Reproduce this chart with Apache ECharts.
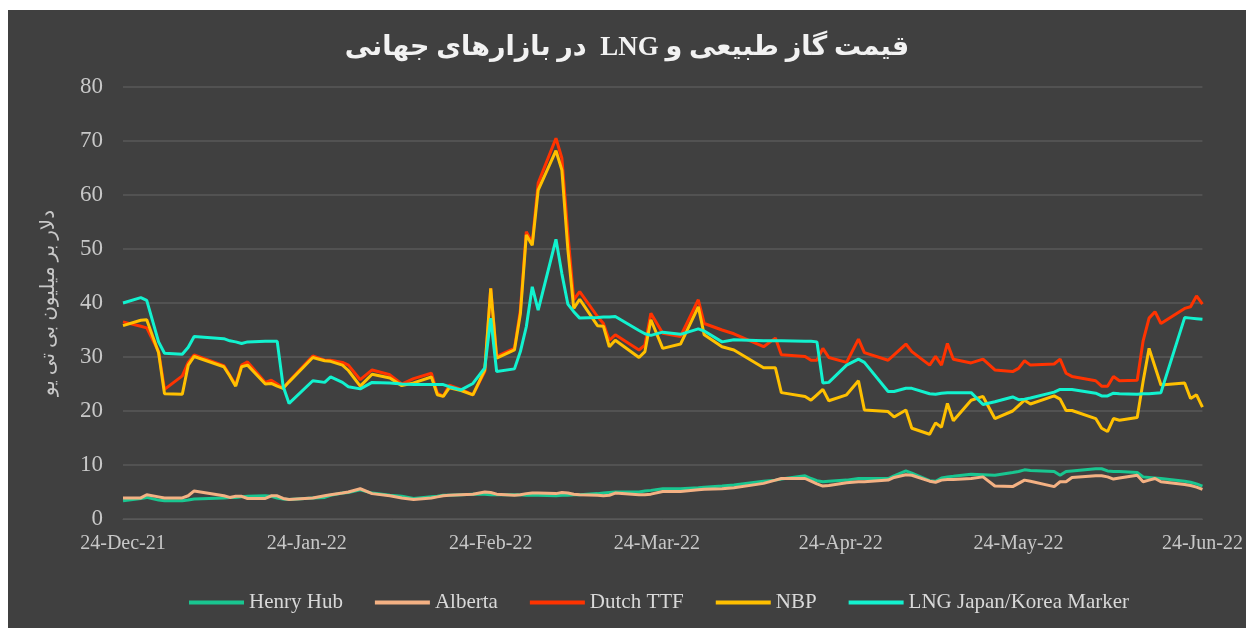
<!DOCTYPE html>
<html>
<head>
<meta charset="utf-8">
<script src="https://cdn.jsdelivr.net/npm/echarts@6/dist/echarts.min.js"></script>
<style>
	html, body { margin: 0; padding: 0; background: #ffffff; }
	#chart { position: absolute; left: 8px; top: 10px; width: 1238px; height: 618px; background: #404040; }
</style>
</head>
<body>
<div id="chart"></div>
<script>
// price, dollars per million BTU
const dates = [
	'2021-12-24', '2021-12-27', '2021-12-28', '2021-12-30', '2021-12-31',
	'2022-01-03', '2022-01-04', '2022-01-05',
	'2022-01-10', '2022-01-11', '2022-01-12', '2022-01-13', '2022-01-14',
	'2022-01-17', '2022-01-18', '2022-01-19', '2022-01-20', '2022-01-21',
	'2022-01-25', '2022-01-27', '2022-01-28', '2022-01-30', '2022-01-31',
	'2022-02-02', '2022-02-04', '2022-02-07', '2022-02-09', '2022-02-11',
	'2022-02-14', '2022-02-15', '2022-02-16', '2022-02-17', '2022-02-19',
	'2022-02-21', '2022-02-23', '2022-02-24', '2022-02-25',
	'2022-02-28', '2022-03-01', '2022-03-02', '2022-03-03', '2022-03-04',
	'2022-03-07', '2022-03-08', '2022-03-09', '2022-03-10', '2022-03-11',
	'2022-03-14', '2022-03-15', '2022-03-16', '2022-03-17',
	'2022-03-21', '2022-03-22', '2022-03-23', '2022-03-25',
	'2022-03-28', '2022-03-31', '2022-04-01',
	'2022-04-04', '2022-04-06',
	'2022-04-11', '2022-04-13', '2022-04-14',
	'2022-04-18', '2022-04-19', '2022-04-20', '2022-04-21', '2022-04-22',
	'2022-04-25', '2022-04-27', '2022-04-28',
	'2022-05-02', '2022-05-03', '2022-05-05', '2022-05-06',
	'2022-05-09', '2022-05-10', '2022-05-11', '2022-05-12', '2022-05-13',
	'2022-05-16', '2022-05-18', '2022-05-20',
	'2022-05-23', '2022-05-24', '2022-05-25', '2022-05-26',
	'2022-05-30', '2022-05-31', '2022-06-01', '2022-06-02',
	'2022-06-06', '2022-06-07', '2022-06-08', '2022-06-09', '2022-06-10',
	'2022-06-13', '2022-06-14', '2022-06-15', '2022-06-16', '2022-06-17',
	'2022-06-21', '2022-06-22', '2022-06-23', '2022-06-24',
];

const henryHub = [
	3.4, 3.8, 4.0, 3.5, 3.4,
	3.4, 3.5, 3.7,
	3.9, 4.0, 4.0, 4.1, 4.2,
	4.3, 4.2, 3.9, 3.7, 3.6,
	3.9, 4.0, 4.4, 4.8, 4.9,
	5.4, 4.8, 4.4, 4.2, 3.8,
	4.1, 4.2, 4.4, 4.4, 4.5,
	4.6, 4.6, 4.5, 4.5,
	4.5, 4.5, 4.4, 4.4, 4.4,
	4.3, 4.4, 4.4, 4.5, 4.5,
	4.7, 4.8, 4.9, 5.0,
	5.0, 5.2, 5.3, 5.6,
	5.6, 5.8, 5.9,
	6.1, 6.3,
	7.0, 7.2, 7.4,
	8.0, 7.5, 7.1, 6.9, 7.0,
	7.2, 7.5, 7.5,
	7.5, 8.0, 8.9, 8.5,
	7.1, 7.0, 7.6, 7.8, 7.9,
	8.3, 8.2, 8.1,
	8.6, 8.8, 9.1, 9.0,
	8.8, 8.1, 8.8, 8.9,
	9.3, 9.3, 8.9, 8.8, 8.8,
	8.6, 7.8, 7.7, 7.6, 7.5,
	7.0, 6.8, 6.5, 6.1,
];

const alberta = [
	3.9, 3.9, 4.5, 4.1, 3.9,
	3.9, 4.3, 5.2,
	4.3, 4.0, 4.2, 4.2, 3.8,
	3.8, 4.3, 4.3, 3.8, 3.6,
	3.9, 4.3, 4.5, 4.8, 5.0,
	5.6, 4.7, 4.3, 3.9, 3.6,
	3.9, 4.1, 4.3, 4.4, 4.5,
	4.6, 5.0, 4.9, 4.6,
	4.4, 4.5, 4.7, 4.8, 4.8,
	4.7, 4.9, 4.8, 4.6, 4.5,
	4.4, 4.3, 4.4, 4.8,
	4.5, 4.5, 4.6, 5.1,
	5.1, 5.4, 5.5,
	5.6, 5.8,
	6.6, 7.2, 7.5,
	7.5, 7.0, 6.5, 6.1, 6.2,
	6.7, 6.9, 6.9,
	7.2, 7.7, 8.2, 8.1,
	7.0, 6.8, 7.2, 7.3, 7.3,
	7.5, 7.8, 6.1,
	6.0, 6.6, 7.2, 7.0,
	6.0, 6.9, 6.9, 7.7,
	8.0, 8.0, 7.8, 7.4, 7.6,
	8.1, 6.9, 7.2, 7.5, 6.9,
	6.4, 6.2, 5.9, 5.5,
];

const dutchTTF = [
	36.5, 35.7, 35.4, 31.0, 24.0,
	26.5, 29.0, 30.4,
	28.4, 26.6, 24.8, 28.5, 29.1,
	25.3, 25.7, 25.0, 24.2, 25.5,
	30.2, 29.4, 29.4, 29.0, 28.5,
	25.8, 27.6, 26.7, 25.0, 26.0,
	27.0, 23.3, 22.7, 24.8, 24.0,
	23.0, 27.3, 42.7, 30.1,
	31.6, 38.7, 53.2, 51.1, 62.2,
	70.5, 66.8, 53.0, 40.6, 42.1,
	37.5, 36.2, 33.1, 34.1,
	31.3, 32.2, 38.1, 34.4,
	33.8, 40.6, 36.2,
	35.0, 34.3,
	31.9, 33.5, 30.4,
	30.1, 29.4, 29.4, 31.6, 29.9,
	29.0, 33.3, 30.8,
	29.4, 30.4, 32.4, 31.0,
	28.5, 30.1, 28.5, 32.5, 29.6,
	28.9, 29.6, 27.6,
	27.3, 27.9, 29.3, 28.5,
	28.7, 29.6, 27.0, 26.4,
	25.6, 24.6, 24.6, 26.4, 25.6,
	25.7, 33.0, 37.2, 38.4, 36.2,
	39.0, 39.3, 41.3, 39.8,
];

const nbp = [
	35.8, 36.8, 36.9, 30.8, 23.2,
	23.1, 28.5, 30.1,
	28.2, 26.5, 24.6, 28.2, 28.5,
	25.0, 25.1, 24.6, 24.2, 25.4,
	29.9, 29.3, 29.2, 28.5, 27.5,
	24.6, 26.8, 26.1, 24.7, 25.2,
	26.3, 23.0, 22.7, 24.3, 23.8,
	23.0, 27.6, 42.7, 29.8,
	31.3, 38.0, 52.6, 50.7, 60.9,
	68.2, 64.6, 50.0, 39.0, 40.7,
	35.8, 35.7, 31.9, 33.1,
	29.9, 31.0, 36.9, 31.6,
	32.4, 39.3, 34.1,
	31.9, 31.3,
	28.0, 28.0, 23.4,
	22.7, 22.0, 23.0, 24.0, 21.9,
	23.0, 25.6, 20.2,
	19.9, 18.9, 20.2, 16.8,
	15.7, 17.8, 17.0, 21.4, 18.2,
	22.0, 22.7, 18.6,
	20.0, 21.0, 22.0, 21.3,
	22.8, 22.2, 20.1, 20.1,
	18.6, 16.8, 16.2, 18.6, 18.3,
	18.8, 25.5, 31.6, 28.2, 24.8,
	25.2, 22.3, 23.0, 20.7,
];

const lngJapanKorea = [
	40.0, 41.0, 40.5, 32.8, 30.7,
	30.5, 31.8, 33.8,
	33.4, 33.0, 32.8, 32.5, 32.8,
	32.9, 32.9, 32.9, 24.6, 21.4,
	25.6, 25.3, 26.3, 25.3, 24.5,
	24.1, 25.3, 25.2, 25.0, 24.9,
	24.9, 24.9, 24.9, 24.5, 23.9,
	25.1, 28.0, 37.2, 27.3,
	27.8, 31.0, 35.6, 43.0, 38.7,
	51.8, 45.4, 39.8, 38.4, 37.2,
	37.3, 37.4, 37.4, 37.5,
	34.9, 34.3, 34.0, 34.6,
	34.2, 35.2, 34.8,
	32.8, 33.2,
	33.0, 33.0, 33.0,
	32.9, 32.9, 32.8, 25.2, 25.3,
	28.5, 29.6, 29.0,
	23.6, 23.6, 24.2, 24.2,
	23.2, 23.1, 23.3, 23.4, 23.4,
	23.4, 21.2, 21.7,
	22.6, 22.1, 22.2, 22.4,
	23.5, 24.0, 24.0, 24.0,
	23.3, 22.8, 22.8, 23.3, 23.2,
	23.1, 23.2, 23.2, 23.3, 23.4,
	37.3, 37.2, 37.1, 37.0,
];

const xTickDates = ['2021-12-24', '2022-01-24', '2022-02-24', '2022-03-24', '2022-04-24', '2022-05-24', '2022-06-24'];
const yTicks = [0, 10, 20, 30, 40, 50, 60, 70, 80];

const seriesList = [
	{ name: 'Henry Hub', color: '#19c690', values: henryHub },
	{ name: 'Alberta', color: '#f4b183', values: alberta },
	{ name: 'Dutch TTF', color: '#ff3300', values: dutchTTF },
	{ name: 'NBP', color: '#ffc000', values: nbp },
	{ name: 'LNG Japan/Korea Marker', color: '#12f2cf', values: lngJapanKorea },
];

const months = ['Jan', 'Feb', 'Mar', 'Apr', 'May', 'Jun', 'Jul', 'Aug', 'Sep', 'Oct', 'Nov', 'Dec'];
const toTime = (s) => {
	const p = s.split('-').map(Number);
	return new Date(p[0], p[1] - 1, p[2]).getTime();
};

const serifFont = "'Liberation Serif', 'DejaVu Serif', 'DejaVu Sans', serif";
// right-to-left embedding so the mixed persian/latin title keeps its word order
const rtl = (s) => '\u202B' + s + '\u202C';

const chart = echarts.init(document.getElementById('chart'));
chart.setOption({
	backgroundColor: '#404040',
	animation: false,
	title: {
		text: rtl('قیمت گاز طبیعی و LNG  در بازارهای جهانی'),
		left: 'center',
		top: 20,
		textStyle: {
			color: '#f2f2f2',
			fontFamily: serifFont,
			fontSize: 27,
			fontWeight: 'bold',
		},
	},
	legend: {
		bottom: 10,
		left: 176,
		icon: 'rect',
		itemWidth: 55,
		itemHeight: 4,
		itemGap: 32,
		textStyle: { color: '#d9d9d9', fontFamily: serifFont, fontSize: 21 },
		data: seriesList.map((s) => s.name),
	},
	grid: {
		left: 115,
		right: 43,
		top: 77,
		bottom: 109,
	},
	xAxis: {
		type: 'value',
		min: toTime(xTickDates[0]),
		max: toTime(xTickDates[xTickDates.length - 1]),
		axisLine: { show: true, lineStyle: { color: '#595959', width: 1 } },
		axisTick: { show: false },
		splitLine: { show: false },
		axisLabel: {
			customValues: xTickDates.map(toTime),
			color: '#c8c8c8',
			fontFamily: serifFont,
			fontSize: 20,
			margin: 15,
			formatter: (v) => {
				const d = new Date(v);
				return d.getDate() + '-' + months[d.getMonth()] + '-' + String(d.getFullYear()).slice(2);
			},
		},
	},
	yAxis: {
		type: 'value',
		min: yTicks[0],
		max: yTicks[yTicks.length - 1],
		interval: 10,
		name: rtl('دلار بر میلیون بی تی یو'),
		nameLocation: 'middle',
		nameGap: 64,
		nameRotate: 90,
		nameTextStyle: { color: '#c8c8c8', fontFamily: serifFont, fontSize: 20 },
		axisLine: { show: false },
		axisTick: { show: false },
		splitLine: { lineStyle: { color: '#595959', width: 1.5 } },
		axisLabel: { color: '#c8c8c8', fontFamily: serifFont, fontSize: 23, margin: 20 },
	},
	series: seriesList.map((s) => ({
		name: s.name,
		type: 'line',
		symbol: 'none',
		color: s.color,
		lineStyle: { color: s.color, width: 3 },
		data: dates.map((d, i) => [toTime(d), s.values[i]]),
	})),
});
</script>
</body>
</html>
